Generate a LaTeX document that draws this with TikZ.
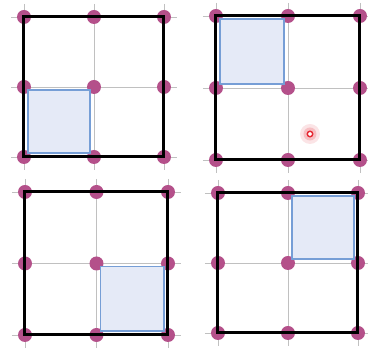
\documentclass[tikz,border=0pt]{standalone}
\definecolor{dotc}{RGB}{180,80,138}
\definecolor{cellfill}{RGB}{229,234,247}
\definecolor{celldraw}{RGB}{118,158,214}
\definecolor{gridc}{RGB}{192,192,192}
\definecolor{cursorc}{RGB}{230,40,50}
\tikzset{
  gridline/.style={draw=gridc, line width=0.8pt},
  cellbox/.style={draw=celldraw, fill=cellfill, line width=1.1pt},
  frame/.style={draw=black, line width=3pt},
  dot/.style={circle, fill=dotc, inner sep=0pt, minimum size=14pt},
}
\newcommand\gridpanel[6]{%
  \begin{scope}[shift={(#1,#2)}]
    \foreach \i in {0,1,2} {
      \draw[gridline] (-13,\i*#3) -- (2*#3+13,\i*#3);
      \draw[gridline] (\i*#3,-13) -- (\i*#3,2*#3+13);
    }
    \foreach \i in {0,1,2} \foreach \j in {0,1,2}
      \node[dot] (#6-\i\j) at (\i*#3,\j*#3) {};
    \path[cellbox] (#4*#3+4,#5*#3+3) rectangle ({(#4+1)*#3-4},{(#5+1)*#3-4});
    \path[frame] (0,0) rectangle (2*#3,2*#3);
  \end{scope}}
\begin{document}
\begin{tikzpicture}[x=1pt,y=-1pt]
  \path[use as bounding box, fill=white] (0,0) rectangle (368,352);
  \gridpanel{24}{17}{70}{0}{1}{a}
  \gridpanel{216}{16}{72}{0}{0}{b}
  \gridpanel{25}{192}{71.5}{1}{1}{c}
  \gridpanel{218}{193}{70}{1}{0}{d}
  % cursor marker
  \node[circle, fill=cursorc, fill opacity=0.12, inner sep=0pt, minimum size=20pt] (glow1) at (310,134) {};
  \node[circle, fill=cursorc, fill opacity=0.2, inner sep=0pt, minimum size=13pt] (glow2) at (310,134) {};
  \node[circle, draw=cursorc, line width=1.4pt, fill=white, inner sep=0pt, minimum size=5.5pt] (cursor) at (310,134) {};
\end{tikzpicture}
\end{document}
